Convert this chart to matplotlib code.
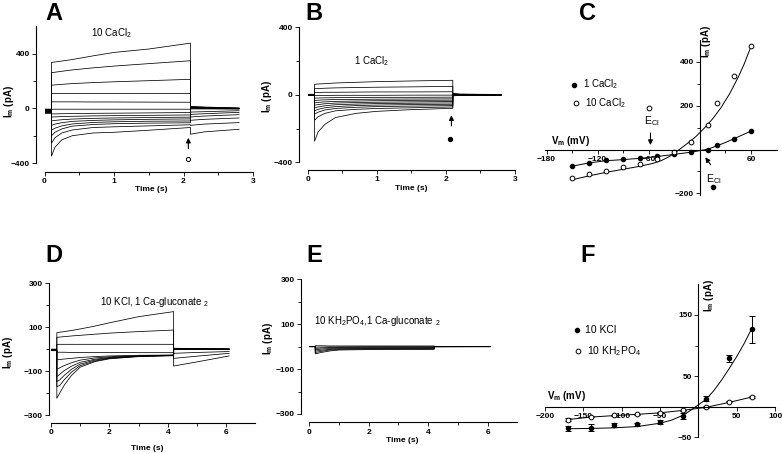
import matplotlib
matplotlib.use('Agg')
import matplotlib.pyplot as plt
from matplotlib.ticker import FixedLocator, MultipleLocator

plt.rcParams['font.family'] = ['Liberation Sans', 'DejaVu Sans']
plt.rcParams['mathtext.fontset'] = 'custom'
plt.rcParams['mathtext.rm'] = 'Liberation Sans'
plt.rcParams['mathtext.it'] = 'Liberation Sans:italic'
plt.rcParams['mathtext.bf'] = 'Liberation Sans:bold'

########################################################################
# A : 10 CaCl2, current traces (pA) vs time (s)
a_hold_t = [0.0, 0.1]
a_hold = [-5, -8, -10, -12, -14, -16, -18, -20, -22, -25, -27, -30, -33, -36]
a_step_t = [0.1, 0.15, 0.25, 0.4, 0.7, 1.0, 1.5, 2.1]
a_steps = [
    [337, 340, 347, 358, 385, 410, 435, 478],
    [262, 265, 272, 282, 297, 310, 328, 349],
    [170, 172, 176, 182, 189, 195, 203, 213],
    [109, 109, 109, 109, 109, 109, 109, 109],
    [48, 48, 48, 48, 47, 47, 46, 45],
    [-6, -6, -6, -6, -6, -6, -6, -6],
    [-40, -40, -39, -38, -36, -35, -33, -30],
    [-63, -62, -60, -58, -55, -53, -51, -48],
    [-92, -88, -83, -78, -73, -70, -67, -64],
    [-124, -115, -105, -95, -88, -84, -80, -77],
    [-160, -145, -128, -114, -103, -98, -94, -92],
    [-201, -175, -150, -130, -118, -112, -108, -105],
    [-255, -215, -180, -158, -140, -135, -128, -120],
    [-350, -285, -230, -200, -180, -175, -160, -140],
]
a_tail_t = [2.1, 2.3, 2.8]
a_tails = [
    [14, 10, 3], [12, 8, 2], [10, 7, 1], [8, 5, 0], [5, 3, -1],
    [3, 1, -2], [0, -1, -3], [-4, -4, -5], [-27, -24, -17],
    [-44, -39, -29], [-63, -56, -46], [-87, -80, -70],
    [-124, -115, -104], [-189, -172, -153],
]

# B : 1 CaCl2
b_hold_t = [0.0, 0.1]
b_hold = [3, 2, 2, 1, 1, 0, 0, 0, -1, -1, -2, -2, -3]
b_step_t = [0.1, 0.15, 0.25, 0.4, 0.7, 1.0, 1.5, 2.1]
b_steps = [
    [62, 64, 66, 70, 74, 78, 82, 86],
    [36, 37, 39, 41, 43, 45, 47, 50],
    [14, 14, 15, 15, 16, 17, 17, 18],
    [-4, -4, -4, -3, -3, -3, -2, -2],
    [-20, -19, -18, -17, -16, -15, -15, -14],
    [-34, -32, -30, -28, -27, -26, -25, -24],
    [-48, -45, -42, -39, -37, -35, -33, -32],
    [-62, -58, -53, -49, -46, -44, -42, -40],
    [-78, -72, -65, -59, -55, -52, -50, -48],
    [-95, -86, -77, -70, -64, -61, -58, -56],
    [-115, -103, -90, -81, -74, -70, -67, -64],
    [-150, -130, -110, -95, -86, -81, -77, -72],
    [-275, -220, -175, -135, -110, -98, -88, -80],
]
b_tail_t = [2.1, 2.2, 2.8]
b_tails = [
    [8, 4, 2], [6, 3, 2], [5, 3, 1], [4, 2, 1], [3, 1, 0], [2, 1, 0],
    [1, 0, 0], [0, 0, -1], [-1, -1, -1], [-2, -1, -1], [-3, -2, -1],
    [-4, -3, -2], [-6, -4, -2],
]

# C : I-V, 1 and 10 CaCl2
c_v = [-150, -130, -110, -90, -70, -50, -30, -10, 10, 20, 40, 60]
c_1ca = [-75, -60, -50, -45, -38, -30, -20, -12, 0, 20, 48, 84]
c_10ca = [-132, -113, -98, -80, -65, -45, -12, 36, 113, 214, 334, 472]
c_fit1_v = [-150, -130, -110, -90, -70, -50, -30, -10, 10, 30, 60]
c_fit1_i = [-76, -61, -51, -46, -40, -32, -22, -12, 2, 32, 84]
c_fit10_v = [-150, -130, -110, -90, -70, -55, -45, -35, -25, -15, -5,
             5, 15, 25, 35, 45, 52, 60]
c_fit10_i = [-138, -120, -104, -90, -76, -63, -50, -30, -3, 27, 58,
             97, 140, 192, 255, 330, 390, 470]

# D : 10 KCl, 1 Ca-gluconate2
d_hold_t = [0.0, 0.2]
d_hold = [0, -1, -2, -3, -4, -5, -6, -7, -2, -4]
d_step_t = [0.2, 0.3, 0.45, 0.7, 1.0, 1.5, 2.0, 3.0, 4.2]
d_steps = [
    [75, 77, 80, 85, 92, 105, 120, 148, 171],
    [54, 55, 57, 60, 63, 68, 73, 80, 87],
    [22, 22, 22, 22, 22, 22, 22, 22, 22],
    [-14, -14, -14, -15, -15, -15, -15, -16, -16],
    [-49, -47, -45, -42, -38, -34, -31, -28, -27],
    [-92, -85, -75, -62, -50, -40, -35, -30, -27],
    [-125, -115, -98, -78, -60, -46, -38, -31, -28],
    [-148, -140, -120, -92, -68, -50, -40, -32, -28],
    [-171, -165, -140, -105, -75, -54, -42, -33, -29],
    [-224, -200, -165, -120, -82, -57, -44, -34, -30],
]
d_tail_t = [4.2, 5.0, 6.1]
d_tails = [
    [-77, -58, -31], [-42, -32, -19], [-19, -15, -11], [-2, -2, -1],
    [3, 2, 1], [2, 1, 0], [1, 0, 0], [0, 0, -1], [-1, -1, -1], [4, 3, 2],
]

# E : 10 KH2PO4, 1 Ca-gluconate2
e_hold_t = [0.0, 0.2]
e_hold = [0, 0, 0, 0, 0, 0, 0]
e_step_t = [0.2, 0.4, 0.7, 1.0, 2.0, 4.2]
e_steps = [
    [4, 4, 3, 3, 3, 3],
    [-2, -2, -1, -1, 0, 0],
    [-8, -6, -4, -3, -3, -3],
    [-14, -11, -8, -6, -6, -5],
    [-20, -16, -12, -9, -8, -8],
    [-26, -21, -15, -12, -11, -10],
    [-32, -26, -19, -15, -13, -12],
]
e_tail_t = [4.2, 6.1]
e_tails = [[1, 0], [0, 0], [0, 0], [-1, 0], [0, 0], [1, 0], [0, 0]]

# F : I-V, 10 KCl and 10 KH2PO4
f_v = [-170, -140, -110, -80, -50, -20, 10, 40, 70]
f_kcl = [-35, -34, -30, -29, -25, -15, 13, 79, 127]
f_kcl_err = [4, 5, 3, 2, 3, 5, 4, 6, 22]
f_kh = [-21, -16, -14, -12.5, -10, -6, -0.5, 8, 16]
f_kh_err = [2, 1, 1, 1, 1, 1, 1, 1, 2]
f_fitk_v = [-170, -140, -110, -80, -50, -35, -20, -10, 0, 10, 20, 30, 40, 50, 60, 70]
f_fitk_i = [-36, -35.5, -34.5, -32.5, -27, -22, -14, -6, 3, 12, 26, 43, 62, 82, 104, 129]
f_fith_i = [-21, -17, -14.5, -12.5, -10, -6, -1, 7, 16]

########################################################################
W, H = 782, 454
fig = plt.figure(figsize=(W / 100, H / 100), dpi=100)


def px_axes(x0, x1, ytop, ybot):
    return fig.add_axes([x0 / W, 1 - ybot / H, (x1 - x0) / W, (ybot - ytop) / H])


def ftext(x, y, s, **kw):
    fig.text(x / W, 1 - y / H, s, **kw)


def bold_ticks(ax):
    ax.tick_params(which='both', direction='out', width=0.6, labelsize=6, pad=1.5)
    ax.tick_params(which='major', length=3)
    ax.tick_params(which='minor', length=2)
    for lbl in ax.get_xticklabels() + ax.get_yticklabels():
        lbl.set_fontweight('bold')


def trace_axes(ax, left_off, bot_off):
    for s in ['top', 'right']:
        ax.spines[s].set_visible(False)
    ax.spines['left'].set_position(('outward', left_off))
    ax.spines['bottom'].set_position(('outward', bot_off))
    for s in ['left', 'bottom']:
        ax.spines[s].set_linewidth(0.8)
    ax.patch.set_alpha(0)


def draw_traces(ax, hold_t, hold, step_t, steps, tail_t, tails):
    for h, st, tl in zip(hold, steps, tails):
        ax.plot(hold_t + step_t + tail_t, [h, h] + st + tl, color='black', lw=0.55)


# ---------------- A
axA = px_axes(44.5, 253, 26.5, 163)
draw_traces(axA, a_hold_t, a_hold, a_step_t, a_steps, a_tail_t, a_tails)
axA.set_xlim(0, 3)
axA.set_ylim(-400, 600)
axA.set_xticks([0, 1, 2, 3])
axA.xaxis.set_minor_locator(MultipleLocator(0.5))
axA.set_yticks([-400, 0, 400])
axA.yaxis.set_minor_locator(FixedLocator([-200, 200]))
trace_axes(axA, 6.1, 6.5)
bold_ticks(axA)
axA.text(0.96, 552, '10 CaCl$_2$', fontsize=7, ha='center', va='center')
axA.annotate('', xy=(2.07, -195), xytext=(2.07, -315),
             arrowprops=dict(arrowstyle='-|>', color='black', lw=0.8, mutation_scale=7))
axA.plot([2.07], [-371], 'o', ms=3, mfc='white', mec='black', mew=0.7, clip_on=False)

# ---------------- B
axB = px_axes(307.7, 515, 27.3, 162.3)
draw_traces(axB, b_hold_t, b_hold, b_step_t, b_steps, b_tail_t, b_tails)
axB.set_xlim(0, 3)
axB.set_ylim(-400, 400)
axB.set_xticks([0, 1, 2, 3])
axB.xaxis.set_minor_locator(MultipleLocator(0.5))
axB.set_yticks([-400, 0, 400])
axB.yaxis.set_minor_locator(FixedLocator([-200, 200]))
trace_axes(axB, 6.3, 5.5)
bold_ticks(axB)
axB.text(0.92, 199, '1 CaCl$_2$', fontsize=7, ha='center', va='center')
axB.annotate('', xy=(2.08, -105), xytext=(2.08, -200),
             arrowprops=dict(arrowstyle='-|>', color='black', lw=0.8, mutation_scale=7))
axB.plot([2.06], [-263], 'o', ms=2.8, color='black')

# ---------------- C
axC = px_axes(544.8, 776.6, 39.8, 194.5)
axC.plot(c_fit1_v, c_fit1_i, color='black', lw=0.7)
axC.plot(c_fit10_v, c_fit10_i, color='black', lw=0.7)
axC.plot(c_v, c_1ca, 'o', ms=3, color='black')
axC.plot(c_v, c_10ca, 'o', ms=3.4, mfc='white', mec='black', mew=0.7)
axC.set_xlim(-182, 90)
axC.set_ylim(-205, 500)
for s in ['top', 'right']:
    axC.spines[s].set_visible(False)
axC.spines['left'].set_position('zero')
axC.spines['bottom'].set_position('zero')
axC.set_xticks([-180, -120, -60, 60])
axC.xaxis.set_minor_locator(FixedLocator([-150, -90, -30, 30]))
axC.set_yticks([-200, 200, 400])
axC.yaxis.set_minor_locator(FixedLocator([-100, 100, 300]))
bold_ticks(axC)
axC.patch.set_alpha(0)
axC.plot([-148], [296], 'o', ms=3, color='black')
axC.text(-137, 296, '1 CaCl$_2$', fontsize=7, va='center')
axC.plot([-145], [210], 'o', ms=3.4, mfc='white', mec='black', mew=0.7)
axC.text(-135, 210, '10 CaCl$_2$', fontsize=7, va='center')
axC.plot([-59.6], [187], 'o', ms=3.4, mfc='white', mec='black', mew=0.7)
axC.text(-56, 128, 'E$_{\\mathrm{Cl}}$', fontsize=7.5, ha='center', va='center')
axC.annotate('', xy=(-58, 8), xytext=(-58, 88),
             arrowprops=dict(arrowstyle='-|>', color='black', lw=0.8, mutation_scale=7))
axC.annotate('', xy=(4.5, -25), xytext=(14.5, -80),
             arrowprops=dict(arrowstyle='-|>', color='black', lw=0.8, mutation_scale=7))
axC.text(16.5, -133, 'E$_{\\mathrm{Cl}}$', fontsize=7.5, ha='center', va='center')
axC.plot([15.8], [-169], 'o', ms=3, color='black', clip_on=False)

# ---------------- D
axD = px_axes(51, 255.4, 283.3, 415)
draw_traces(axD, d_hold_t, d_hold, d_step_t, d_steps, d_tail_t, d_tails)
axD.set_xlim(0, 7)
axD.set_ylim(-300, 300)
axD.set_xticks([0, 2, 4, 6])
axD.xaxis.set_minor_locator(FixedLocator([1, 3, 5]))
axD.set_yticks([-300, -100, 100, 300])
axD.yaxis.set_minor_locator(FixedLocator([-200, 0, 200]))
trace_axes(axD, 1.2, 5.5)
bold_ticks(axD)
axD.text(3.56, 215, '10 KCl, 1 Ca-gluconate $_2$', fontsize=7, ha='center', va='center')

# ---------------- E
axE = px_axes(309.3, 517.4, 279.3, 414)
draw_traces(axE, e_hold_t, e_hold, e_step_t, e_steps, e_tail_t, e_tails)
axE.set_xlim(0, 7)
axE.set_ylim(-300, 300)
axE.set_xticks([0, 2, 4, 6])
axE.xaxis.set_minor_locator(FixedLocator([1, 3, 5]))
axE.set_yticks([-300, -100, 100, 300])
axE.yaxis.set_minor_locator(FixedLocator([-200, 0, 200]))
trace_axes(axE, 6.0, 6.0)
bold_ticks(axE)
axE.text(2.28, 114, '10 KH$_2$PO$_4$,1 Ca-gluconate $_2$', fontsize=7, ha='center', va='center')

# ---------------- F
axF = px_axes(544.7, 775.1, 284.4, 437.3)
axF.plot(f_fitk_v, f_fitk_i, color='black', lw=0.7)
axF.plot(f_v, f_fith_i, color='black', lw=0.7)
axF.errorbar(f_v, f_kcl, yerr=f_kcl_err, fmt='o', ms=3, color='black',
             elinewidth=0.7, capsize=2, capthick=0.7)
axF.errorbar(f_v, f_kh, yerr=f_kh_err, fmt='o', ms=3.4, mfc='white', mec='black',
             mew=0.7, ecolor='black', elinewidth=0.7, capsize=2, capthick=0.7)
axF.set_xlim(-200, 100)
axF.set_ylim(-50, 200)
for s in ['top', 'right']:
    axF.spines[s].set_visible(False)
axF.spines['left'].set_position('zero')
axF.spines['bottom'].set_position('zero')
axF.set_xticks([-200, -150, -100, -50, 50, 100])
axF.set_yticks([-50, 50, 150])
axF.yaxis.set_minor_locator(FixedLocator([100]))
bold_ticks(axF)
axF.patch.set_alpha(0)
axF.plot([-158], [125], 'o', ms=3, color='black')
axF.text(-147, 125, '10 KCl', fontsize=7.5, va='center')
axF.plot([-157], [91], 'o', ms=3.4, mfc='white', mec='black', mew=0.7)
axF.text(-145, 91, '10 KH$_2$PO$_4$', fontsize=7.5, va='center')

########################################################################
# labels
for x, y, s in [(54, 13, 'A'), (314, 13, 'B'), (588, 13, 'C'),
                (54, 256, 'D'), (314, 255, 'E'), (588, 255, 'F')]:
    ftext(x, y, s, fontsize=17, fontweight='bold', ha='center', va='center')

ylab = 'I$_\\mathbf{m}$ (pA)'
for x, y in [(9, 101), (267, 96), (8, 352), (268, 338)]:
    ftext(x, y, ylab, fontsize=7, fontweight='bold', rotation=90, ha='center', va='center')
ftext(706, 41, ylab, fontsize=7, fontweight='bold', rotation=90, ha='center', va='center')
ftext(709, 295, ylab, fontsize=7, fontweight='bold', rotation=90, ha='center', va='center')

for x, y in [(151, 190), (411, 189), (147, 449), (402, 441)]:
    ftext(x, y, 'Time (s)', fontsize=6, fontweight='bold', ha='center', va='center')

ftext(570, 141, 'V$_\\mathbf{m}$ (mV)', fontsize=7, fontweight='bold', ha='center', va='center')
ftext(566, 396, 'V$_\\mathbf{m}$ (mV)', fontsize=7, fontweight='bold', ha='center', va='center')

fig.savefig('out.png', dpi=100)
